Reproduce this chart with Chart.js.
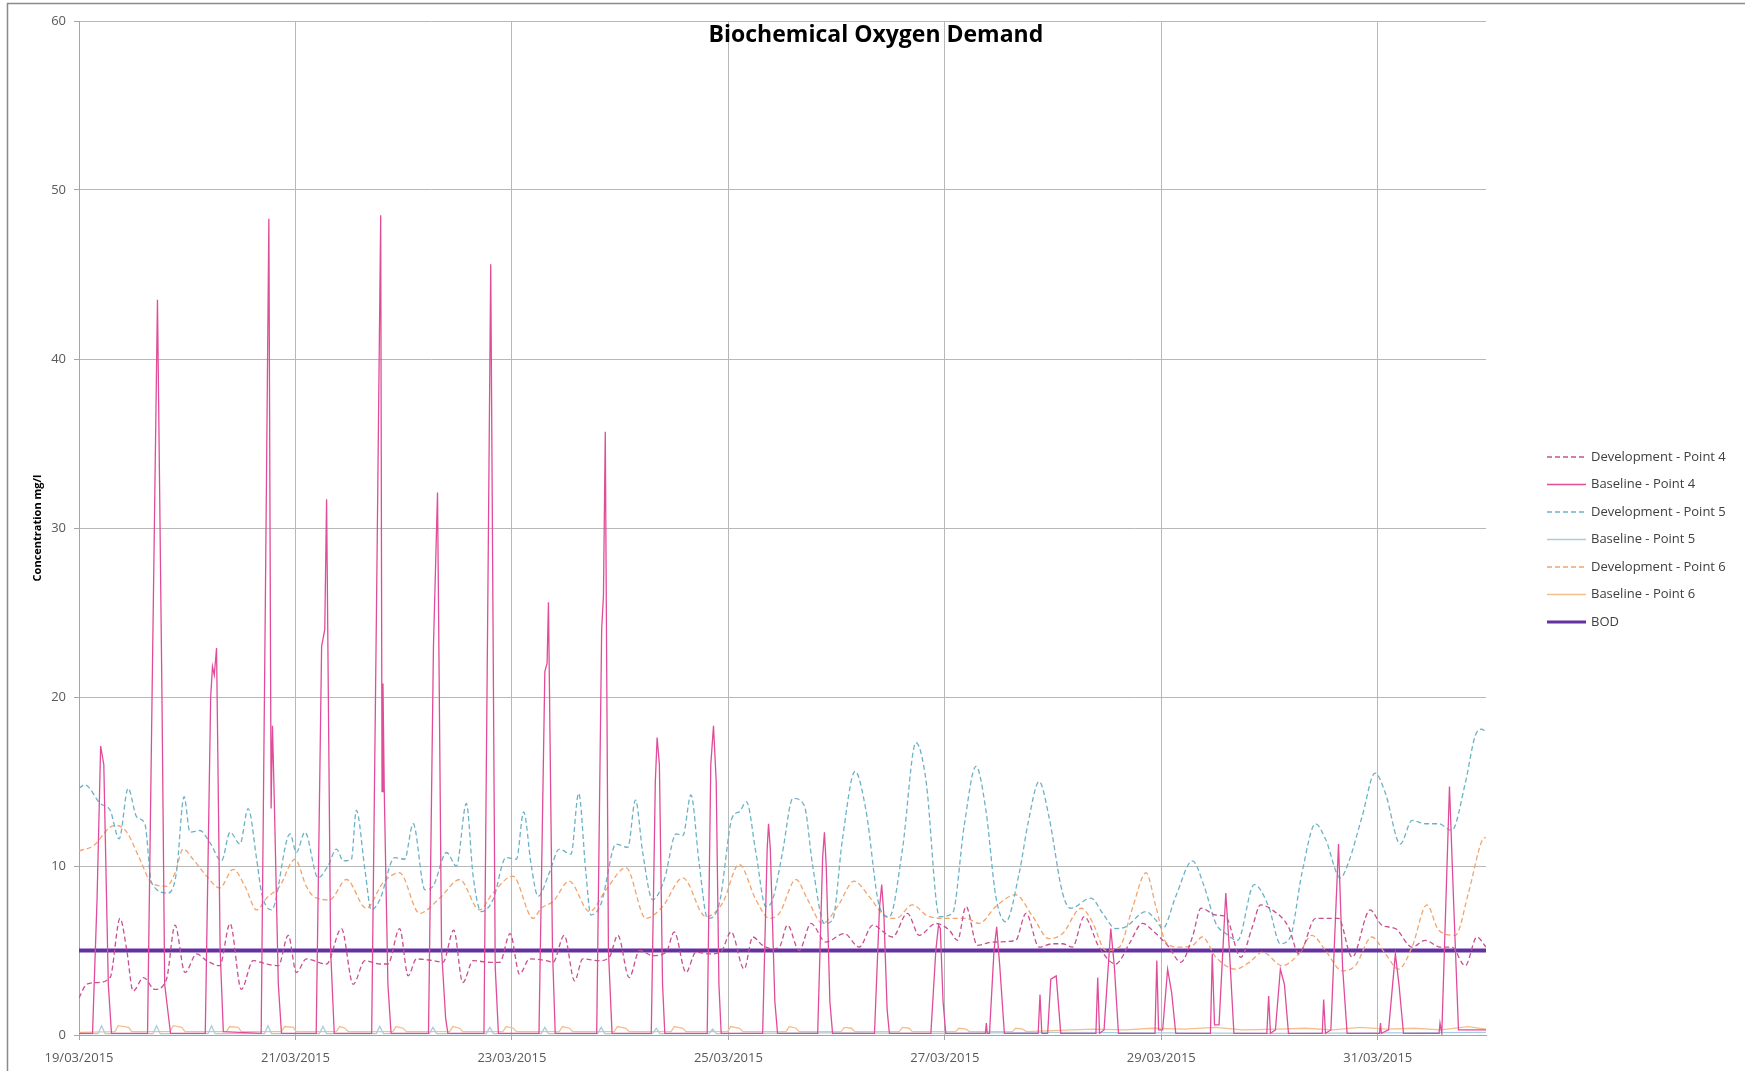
<!DOCTYPE html>
<html>
<head>
<meta charset="utf-8">
<title>Biochemical Oxygen Demand</title>
<script src="https://cdn.jsdelivr.net/npm/chart.js@4.4.1/dist/chart.umd.min.js"></script>
<style>
  html, body { margin: 0; padding: 0; background: #fff; }
  canvas { display: block; }
</style>
</head>
<body>
<canvas id="bodChart" width="1745" height="1071"></canvas>
<script>
// x = hours since 19/03/2015 00:00, y = concentration mg/l
const tickHours = [0, 48, 96, 144, 192, 240, 288];
const tickDates = ['19/03/2015', '21/03/2015', '23/03/2015', '25/03/2015', '27/03/2015', '29/03/2015', '31/03/2015'];

const dev4 = [
  [0,2.2],[1.7,3.0],[3.9,3.1],[6.9,3.4],[9.1,6.9],[10.6,5.0],[12.0,2.6],[14.3,3.4],[16.8,2.7],[19.4,3.3],
  [21.3,6.5],[23.5,3.7],[26.1,4.8],[28.3,4.4],[31.2,4.1],[33.5,6.6],[36.0,2.7],[38.6,4.4],[41.6,4.2],[44.2,4.1],
  [46.4,5.9],[48.2,3.7],[50.4,4.5],[54.9,4.2],[58.2,6.3],[60.8,3.0],[63.4,4.4],[66.7,4.2],[68.5,4.2],[71.1,6.3],
  [73.0,3.5],[74.8,4.5],[78.5,4.4],[80.7,4.3],[83.1,6.2],[85.1,3.1],[87.4,4.4],[91.1,4.3],[93.3,4.3],[95.6,6.0],
  [97.7,3.6],[99.9,4.5],[103.6,4.4],[105.1,4.3],[107.6,5.9],[109.9,3.2],[111.7,4.5],[115.4,4.4],[117.6,4.6],[119.5,5.9],
  [122.0,3.4],[124.3,5.0],[127.2,4.7],[130.2,4.9],[132.0,6.1],[134.6,3.7],[136.8,4.9],[139.8,4.8],[142.3,4.9],[144.6,6.1],
  [147.5,3.9],[149.4,5.8],[151.6,5.3],[153.8,5.1],[155.3,5.2],[157.1,6.5],[159.7,5.0],[162.3,6.6],[165.6,5.5],[169.7,6.0],
  [173.0,5.2],[176.0,6.5],[180.4,5.8],[183.7,7.2],[186.3,5.9],[190.0,6.6],[193.0,6.2],[194.8,5.6],[196.7,7.6],[199.2,5.3],
  [202.6,5.5],[207.7,5.6],[210.0,7.2],[212.9,5.2],[215.9,5.4],[218.1,5.4],[220.3,5.2],[222.9,7.0],[226.2,5.2],[229.9,4.2],
  [232.9,5.4],[235.8,6.6],[238.8,6.0],[241.7,5.2],[244.3,4.3],[246.9,5.8],[248.8,7.5],[252.1,7.1],[254.3,7.0],[257.6,4.6],
  [260.2,6.4],[262.0,7.7],[264.6,7.4],[268.2,6.4],[270.5,4.8],[274.2,6.9],[279.3,6.9],[282.3,4.6],[286.3,7.4],[288.9,6.5],
  [291.9,6.3],[295.6,5.2],[298.5,5.6],[301.9,5.2],[304.4,5.2],[307.4,4.1],[310.0,5.8],[312,5.2]
];

const base4 = [
  [0,0.1],[3.0,0.1],[4.0,8],[4.8,17.1],[5.5,16],[6.5,3],[7.2,0.1],
  [15.2,0.1],[16.3,22],[17.4,43.5],[18.4,20],[19.0,3],[19.8,1.2],[20.3,0.1],
  [28.0,0.1],[29.2,20],[29.6,21.8],[30.0,21.3],[30.5,22.9],[31.3,5],[32.0,0.2],
  [40.4,0.1],[41.3,25],[42.1,48.3],[42.6,13.4],[42.9,18.3],[43.3,14.0],[44.2,3],[44.9,0.1],
  [52.6,0.1],[53.8,23],[54.5,24],[54.9,31.7],[55.8,5],[56.6,0.1],
  [64.9,0.1],[66.0,26],[66.9,48.5],[67.2,14.4],[67.4,20.8],[67.7,14.3],[68.5,3],[69.2,0.1],
  [77.5,0.1],[78.6,23],[79.5,32.1],[80.4,5],[81.3,1],[81.8,0.1],
  [89.8,0.1],[90.6,24],[91.3,45.6],[92.3,4],[93.0,0.1],
  [102.0,0.1],[103.3,21.5],[103.8,22],[104.1,25.6],[105.0,5],[105.6,0.1],
  [114.8,0.1],[115.9,24],[116.3,26],[116.7,35.7],[117.4,5],[118.2,0.1],
  [126.9,0.1],[127.8,15],[128.2,17.6],[128.7,16],[129.4,3],[129.9,0.1],
  [139.3,0.1],[140.1,16],[140.7,18.3],[141.3,15],[141.9,3],[142.4,0.1],
  [151.6,0.1],[152.6,11],[152.9,12.5],[153.3,11],[154.3,2],[154.9,0.1],
  [163.8,0.1],[164.9,10.5],[165.3,12],[165.7,10],[166.5,2],[167.1,0.1],
  [176.4,0.1],[177.5,7.5],[178.0,8.9],[178.5,7],[179.2,1.5],[179.7,0.1],
  [188.9,0.1],[190.0,5],[190.6,6.5],[191.0,6.3],[191.6,2],[192.2,0.1],
  [201.0,0.1],[201.2,0.7],[201.4,0.1],[201.9,0.1],[202.9,5],[203.5,6.4],[204.2,4],[205.2,0.1],
  [212.7,0.1],[213.1,2.4],[213.5,0.1],[214.8,0.1],[215.5,3.3],[216.7,3.5],[217.7,0.1],
  [225.5,0.1],[225.9,3.4],[226.3,0.1],[227.3,0.3],[228.8,6.3],[229.6,4],[230.5,0.1],
  [238.6,0.1],[239.0,4.4],[239.4,0.3],[240.3,0.3],[241.4,3.9],[242.3,2.5],[243.2,0.1],
  [250.9,0.1],[251.3,4.8],[251.8,0.6],[252.8,0.6],[254.3,8.4],[255.1,5],[256.1,0.1],
  [263.4,0.1],[263.8,2.3],[264.2,0.1],[265.3,0.3],[266.4,3.9],[267.3,3.0],[268.2,0.1],
  [275.7,0.1],[276.0,2.1],[276.4,0.1],[277.6,0.3],[279.3,11.3],[280.2,4],[281.2,0.1],
  [288.4,0.1],[288.6,0.7],[288.8,0.1],[290.4,0.3],[291.9,4.8],[292.7,3],[293.7,0.1],
  [301.6,0.1],[301.8,0.7],[302.2,0.1],[303.9,14.7],[304.8,8],[305.9,0.3],[312,0.3]
];

const dev5 = [
  [0,14.6],[1.3,14.8],[4.7,13.7],[6.9,13.3],[8.9,11.6],[10.9,14.6],[12.8,12.9],[14.6,12.5],[16.1,9.0],[19.8,8.4],
  [21.6,9.6],[23.3,14.1],[24.6,12.0],[26.8,12.1],[29.0,11.4],[31.6,10.3],[33.5,12.0],[35.7,11.3],[37.5,13.4],[39.4,10.4],
  [40.5,8.4],[42.7,7.4],[46.8,11.9],[48.2,10.8],[50.1,12.0],[53.0,9.3],[55.2,10.0],[57.1,11.0],[58.6,10.3],[60.4,10.4],
  [61.5,13.3],[63.4,9.8],[64.8,7.4],[66.7,8.0],[70.0,10.5],[72.2,10.4],[74.1,12.5],[76.7,8.6],[78.5,8.8],[81.5,10.8],
  [83.7,10.0],[85.9,13.7],[87.4,9.4],[89.2,7.3],[91.8,8.0],[94.7,10.5],[97.0,10.4],[98.6,13.2],[100.3,10.0],[101.8,8.2],
  [104.3,9.6],[106.5,11.0],[109.1,10.7],[110.8,14.3],[112.4,9.6],[113.5,7.1],[115.8,7.8],[119.1,11.3],[121.7,11.1],[123.4,13.9],
  [125.0,10.8],[127.2,8.0],[129.8,9.2],[132.4,11.9],[133.9,11.8],[135.7,14.2],[137.5,10.2],[139.4,6.9],[142.0,7.8],[144.9,12.9],
  [146.4,13.2],[148.0,13.8],[150.1,10.8],[152.3,7.6],[153.8,8.0],[156.0,10.8],[158.3,14.0],[160.8,13.6],[162.7,10.0],[165.3,6.6],
  [167.1,6.8],[169.3,11.6],[172.1,15.6],[174.5,13.3],[177.5,7.6],[179.7,7.0],[182.6,11.0],[185.6,17.3],[187.8,15.1],[190.8,7.0],
  [193.7,7.2],[196.3,12.4],[198.9,15.9],[201.1,13.3],[203.3,8.2],[205.5,6.7],[208.5,9.6],[210.5,12.6],[212.9,15.0],[215.1,12.9],
  [218.1,8.4],[219.9,7.5],[224.4,8.1],[227.0,7.2],[229.9,6.3],[232.1,6.4],[236.6,7.3],[238.8,6.8],[240.3,6.3],[243.2,8.2],
  [246.9,10.3],[249.5,8.8],[252.1,6.6],[254.3,6.0],[256.9,5.6],[260.6,8.9],[263.8,7.6],[266.4,5.4],[268.6,5.8],[271.2,9.6],
  [274.2,12.5],[276.4,11.6],[279.7,9.3],[281.5,10.2],[284.5,12.9],[287.4,15.5],[289.7,14.3],[293.0,11.3],[295.6,12.7],[298.5,12.5],
  [301.5,12.5],[304.4,12.1],[307.4,14.9],[309.6,17.7],[311.1,18.1],[312,17.9]
];

const base5 = [
  [0,0.08],[4.2,0.08],[5.0,0.55],[5.8,0.08],[16.4,0.08],[17.2,0.55],[18.0,0.08],[28.6,0.08],[29.4,0.55],[30.2,0.08],
  [41.1,0.08],[41.9,0.55],[42.7,0.08],[53.3,0.08],[54.1,0.5],[54.9,0.08],[65.9,0.08],[66.7,0.5],[67.5,0.08],
  [77.7,0.08],[78.5,0.45],[79.3,0.08],[90.3,0.08],[91.1,0.45],[91.9,0.08],[102.5,0.08],[103.3,0.45],[104.1,0.08],
  [115.0,0.08],[115.8,0.45],[116.6,0.08],[127.2,0.08],[128.0,0.4],[128.8,0.08],[139.7,0.08],[140.5,0.35],[141.3,0.08],
  [165,0.12],[190,0.1],[215,0.15],[240,0.12],[265,0.1],[290,0.12],[312,0.15]
];

const dev6 = [
  [0,10.9],[3.2,11.2],[6.9,12.3],[8.3,12.4],[10.6,12.0],[13.5,10.4],[16.1,9.0],[19.4,8.8],[21.3,9.6],[23.1,11.0],
  [25.3,10.4],[28.3,9.4],[31.2,8.7],[34.2,9.8],[36.8,8.8],[39.4,7.4],[41.6,8.1],[44.5,8.8],[47.9,10.4],[50.4,8.8],
  [52.0,8.2],[55.6,8.0],[59.3,9.2],[63.7,7.5],[67.4,9.0],[71.1,9.6],[75.5,7.2],[80.0,8.1],[84.4,9.2],[88.8,7.4],
  [91.8,8.4],[96.2,9.4],[100.7,6.9],[102.5,7.5],[105.1,7.9],[108.7,9.1],[113.2,7.3],[116.9,8.6],[121.3,9.9],[125.7,6.9],
  [129.4,7.6],[133.9,9.3],[139.0,7.0],[142.7,7.8],[146.4,10.1],[150.1,8.0],[153.1,6.9],[155.3,7.2],[159.0,9.2],[161.6,8.0],
  [164.9,6.6],[168.2,7.6],[171.9,9.1],[175.2,8.2],[178.9,7.0],[181.2,6.9],[184.8,7.7],[188.5,7.0],[193.0,6.9],[196.7,6.9],
  [199.6,6.6],[203.3,7.6],[207.7,8.3],[211.5,7.0],[215.1,5.7],[218.1,6.0],[222.2,7.5],[224.7,6.7],[227.7,5.0],[230.7,5.2],
  [233.6,7.5],[236.6,9.6],[238.8,7.6],[241.0,5.5],[243.9,5.2],[246.9,5.3],[249.1,5.8],[252.1,4.6],[256.5,3.9],[259.5,4.3],
  [262.5,4.9],[266.8,4.1],[270.5,4.8],[273.4,5.9],[276.4,5.0],[280.1,3.8],[283.0,4.1],[286.7,5.8],[289.7,4.8],[292.6,3.9],
  [295.6,5.2],[298.9,7.7],[301.5,6.2],[305.2,5.9],[308.1,8.4],[311.1,11.5],[312,11.7]
];

const base6 = [
  [0,0.15],[8.0,0.2],[8.7,0.55],[11.0,0.45],[11.7,0.2],[20.2,0.2],[20.9,0.55],[22.8,0.45],[23.5,0.2],
  [32.7,0.2],[33.4,0.5],[35.3,0.45],[36.0,0.2],[44.9,0.2],[45.6,0.5],[47.5,0.45],[48.2,0.2],
  [57.1,0.2],[57.8,0.5],[59.0,0.4],[59.7,0.2],[69.6,0.2],[70.3,0.5],[71.9,0.4],[72.6,0.2],
  [82.2,0.2],[82.9,0.5],[84.4,0.4],[85.1,0.2],[94.0,0.2],[94.7,0.5],[96.3,0.4],[97.0,0.2],
  [106.5,0.2],[107.2,0.5],[108.8,0.4],[109.5,0.2],[118.7,0.2],[119.4,0.5],[121.3,0.4],[122.0,0.2],
  [131.3,0.2],[132.0,0.5],[133.9,0.4],[134.6,0.2],[143.8,0.2],[144.5,0.5],[146.5,0.4],[147.2,0.2],
  [156.8,0.2],[157.5,0.5],[159.0,0.4],[159.7,0.2],[169.0,0.2],[169.7,0.45],[171.3,0.4],[172.0,0.2],
  [181.9,0.2],[182.6,0.45],[184.1,0.4],[184.8,0.2],[194.4,0.2],[195.1,0.4],[196.7,0.35],[197.4,0.2],
  [207.0,0.2],[207.7,0.4],[209.3,0.35],[210.0,0.2],[220,0.3],[225,0.35],[232,0.3],[238,0.4],[245,0.35],
  [252,0.45],[258,0.3],[266,0.35],[272,0.4],[278,0.3],[284,0.45],[290,0.35],[296,0.4],[302,0.3],[308,0.5],[312,0.35]
];

const bodLimit = [[0,5],[312,5]];

const toPoints = arr => arr.map(([x, y]) => ({ x, y }));

// white background + grey outer frame like the exported picture
const framePlugin = {
  id: 'frame',
  beforeDraw(chart) {
    const ctx = chart.ctx;
    ctx.save();
    ctx.fillStyle = '#fff';
    ctx.fillRect(0, 0, chart.width, chart.height);
    ctx.strokeStyle = '#8a8a8a';
    ctx.lineWidth = 1.5;
    ctx.strokeRect(7.5, 3.5, chart.width + 20, chart.height + 20);
    ctx.restore();
  }
};

// title sits inside the plot area, off centre
const titlePlugin = {
  id: 'innerTitle',
  afterDraw(chart) {
    const { ctx, chartArea } = chart;
    ctx.save();
    ctx.font = 'bold 23px "Open Sans"';
    ctx.fillStyle = '#000';
    ctx.textAlign = 'center';
    ctx.textBaseline = 'middle';
    ctx.fillText('Biochemical Oxygen Demand', chartArea.left + (chartArea.right - chartArea.left) * 0.5664, chartArea.top + 14);
    ctx.restore();
  }
};

// legend to the right, drawn from the datasets themselves
const sideLegend = {
  id: 'sideLegend',
  afterDraw(chart) {
    const { ctx, chartArea } = chart;
    const x = chartArea.right + 61;
    const startY = (chartArea.top + chartArea.bottom) / 2 - 71;
    ctx.save();
    ctx.font = '13px "Open Sans"';
    ctx.textBaseline = 'middle';
    chart.data.datasets.forEach((ds, i) => {
      const y = startY + i * 27.5;
      ctx.beginPath();
      ctx.setLineDash(ds.borderDash || []);
      ctx.strokeStyle = ds.borderColor;
      ctx.lineWidth = Math.min(ds.borderWidth, 3);
      ctx.moveTo(x, y);
      ctx.lineTo(x + 39, y);
      ctx.stroke();
      ctx.setLineDash([]);
      ctx.fillStyle = '#404040';
      ctx.fillText(ds.label, x + 44, y);
    });
    ctx.restore();
  }
};

const dashed = [5, 3];

new Chart(document.getElementById('bodChart'), {
  type: 'line',
  data: {
    datasets: [
      { label: 'Development - Point 4', data: toPoints(dev4), borderColor: '#c8508e', borderWidth: 1.3, borderDash: dashed, cubicInterpolationMode: 'monotone' },
      { label: 'Baseline - Point 4', data: toPoints(base4), borderColor: '#e04c9a', borderWidth: 1.3, tension: 0 },
      { label: 'Development - Point 5', data: toPoints(dev5), borderColor: '#6cb2c6', borderWidth: 1.3, borderDash: dashed, cubicInterpolationMode: 'monotone' },
      { label: 'Baseline - Point 5', data: toPoints(base5), borderColor: '#a8cde0', borderWidth: 1.3, tension: 0 },
      { label: 'Development - Point 6', data: toPoints(dev6), borderColor: '#f2a46c', borderWidth: 1.3, borderDash: dashed, cubicInterpolationMode: 'monotone' },
      { label: 'Baseline - Point 6', data: toPoints(base6), borderColor: '#f5bf8c', borderWidth: 1.3, tension: 0 },
      { label: 'BOD', data: toPoints(bodLimit), borderColor: '#6530a0', borderWidth: 4, tension: 0 }
    ]
  },
  options: {
    responsive: false,
    animation: false,
    events: [],
    elements: { point: { radius: 0 } },
    layout: { padding: { top: 21, right: 259, bottom: 0, left: 0 } },
    plugins: {
      legend: { display: false },
      tooltip: { enabled: false }
    },
    scales: {
      x: {
        type: 'linear',
        min: 0,
        max: 312,
        afterBuildTicks: scale => { scale.ticks = tickHours.map(v => ({ value: v })); },
        afterFit: scale => { scale.height = 36; },
        ticks: {
          autoSkip: false,
          maxRotation: 0,
          padding: 10,
          color: '#595959',
          font: { family: 'Open Sans', size: 13 },
          callback: v => tickDates[tickHours.indexOf(v)]
        },
        grid: { color: '#b8b8b8', tickLength: 5, tickColor: '#a6a6a6' },
        border: { color: '#a6a6a6' }
      },
      y: {
        min: 0,
        max: 60,
        afterFit: scale => { scale.width = 79; },
        ticks: {
          stepSize: 10,
          padding: 8,
          color: '#595959',
          font: { family: 'Open Sans', size: 13 }
        },
        grid: { color: '#b8b8b8', tickLength: 5, tickColor: '#a6a6a6' },
        border: { color: '#a6a6a6' },
        title: {
          display: true,
          text: 'Concentration mg/l',
          color: '#000',
          font: { family: 'Open Sans', size: 11, weight: 'bold' },
          padding: { top: 31, bottom: 0 }
        }
      }
    }
  },
  plugins: [framePlugin, titlePlugin, sideLegend]
});
</script>
</body>
</html>
